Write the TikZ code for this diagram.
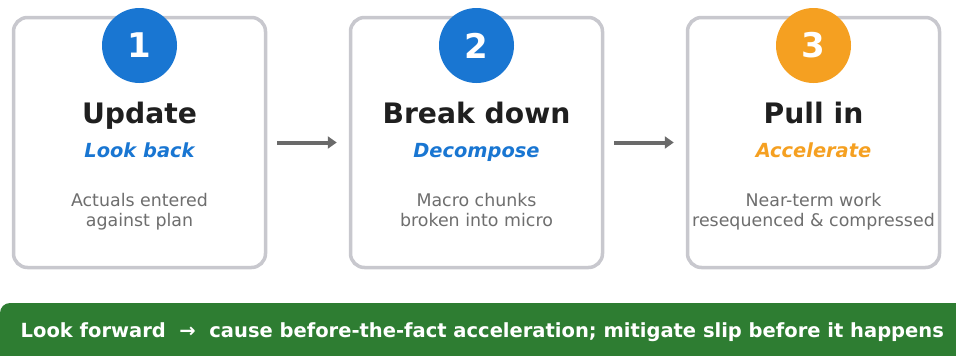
\documentclass[tikz,border=0pt]{standalone}
\usepackage{fontspec}
\setmainfont{DejaVu Sans}
\usetikzlibrary{arrows.meta}

\definecolor{stepblue}{HTML}{1976D2}
\definecolor{steporange}{HTML}{F5A021}
\definecolor{boxgray}{HTML}{C8C8CE}
\definecolor{notegray}{HTML}{6E6E6E}
\definecolor{arrowgray}{HTML}{6A6A6A}
\definecolor{bannergreen}{HTML}{2E7D32}

\begin{document}
\begin{tikzpicture}[x=1pt, y=-1pt,
  stagebox/.style={draw=boxgray, line width=3.5pt, rounded corners=14pt, fill=white,
    minimum width=252pt, minimum height=250pt},
  badge/.style={circle, fill=#1, minimum size=75pt, inner sep=0pt, text=white,
    font=\fontsize{34}{34}\selectfont\bfseries},
  title/.style={anchor=base, font=\fontsize{28.2}{30}\selectfont\bfseries, text=black!88},
  tagline/.style={anchor=base, text=#1, font=\fontsize{19.4}{20}\selectfont\bfseries\itshape},
  note/.style={anchor=base, text=notegray, align=center, font=\fontsize{17.4}{20}\selectfont},
  flow/.style={draw=arrowgray, line width=4pt, -{Triangle[length=9pt, width=12pt]}}]
  \useasboundingbox (0,0) rectangle (956,356);
  \clip (0,0) rectangle (956,356);

  % Stage cards
  \node[stagebox] (box1) at (139.5,142.5) {};
  \node[stagebox] (box2) at (476.5,142.5) {};
  \node[stagebox] (box3) at (813.5,142.5) {};

  % Numbered badges
  \node[badge=stepblue] (num1) at (139.5,45.5) {1};
  \node[badge=stepblue] (num2) at (476.5,45.5) {2};
  \node[badge=steporange] (num3) at (813.5,45.5) {3};

  % Titles
  \node[title] (title1) at (139.5,123.5) {Update};
  \node[title] (title2) at (476.5,123.5) {Break down};
  \node[title] (title3) at (813.5,123.5) {Pull in};

  % Taglines
  \node[tagline=stepblue] (tag1) at (139.5,157) {Look back};
  \node[tagline=stepblue] (tag2) at (476.5,157) {Decompose};
  \node[tagline=steporange] (tag3) at (813.5,157) {Accelerate};

  % Descriptions (base is the last line)
  \node[note] (note1) at (139.5,226.5) {Actuals entered\\against plan};
  \node[note] (note2) at (476.5,226.5) {Macro chunks\\broken into micro};
  \node[note] (note3) at (813.5,226.5) {Near-term work\\resequenced \& compressed};

  % Flow between stages
  \draw[flow] ([xshift=10pt]box1.east) -- ([xshift=-12pt]box2.west);
  \draw[flow] ([xshift=10pt]box2.east) -- ([xshift=-12pt]box3.west);

  % Bottom banner
  \fill[bannergreen, rounded corners=10pt] (0,303) rectangle (970,370);
  \node[anchor=base west, inner sep=0pt, text=white, font=\fontsize{19.5}{20}\selectfont\bfseries]
    (banner) at (20.5,337)
    {Look forward\ \ →\ \ cause before-the-fact acceleration; mitigate slip before it happens};
\end{tikzpicture}
\end{document}
